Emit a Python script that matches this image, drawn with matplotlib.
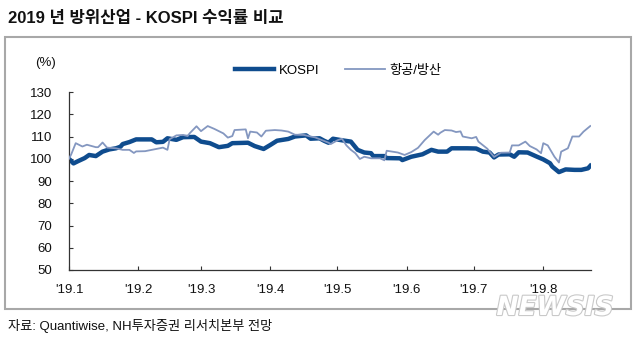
import numpy as np
import matplotlib
matplotlib.use("Agg")
import matplotlib.pyplot as plt
import matplotlib.patheffects as pe
from matplotlib.patches import Rectangle
from matplotlib.lines import Line2D

plt.rcParams['font.family'] = ['Liberation Sans', 'Noto Sans CJK KR', 'DejaVu Sans']

title = "2019 년 방위산업 - KOSPI 수익률 비교"
source = "자료: Quantiwise, NH투자증권 리서치본부 전망"
y_unit = "(%)"
series_names = ["KOSPI", "항공/방산"]
tick_labels = ["'19.1", "'19.2", "'19.3", "'19.4", "'19.5", "'19.6", "'19.7", "'19.8"]
y_ticks = [50, 60, 70, 80, 90, 100, 110, 120, 130]

# day offsets from 2019-01-01
kospi_days = [0, 2, 4, 7, 9, 12, 15, 18, 21, 23, 24, 27, 30, 37, 39, 42, 44, 48, 51, 56,
              59, 63, 67, 71, 73, 80, 83, 87, 90, 93, 98, 101, 106, 108, 112, 114, 116, 118,
              122, 126, 129, 132, 135, 136, 141, 142, 148, 149, 153, 158, 162, 165, 169, 171,
              178, 182, 185, 188, 190, 192, 197, 199, 201, 205, 209, 212, 215, 216, 219, 222,
              226, 229, 232, 233]
kospi_vals = [100, 97.9, 98.9, 100.3, 101.7, 101.2, 103.2, 104.2, 104.7, 105.4, 106.6, 107.5,
              108.7, 108.7, 107.4, 107.6, 109.2, 108.5, 109.7, 109.8,
              107.7, 107.0, 105.2, 105.8, 107.0, 107.2, 105.7, 104.4, 106.2, 108.1, 108.9, 110.0,
              110.5, 109.0, 109.2, 108.1, 107.2, 109.0,
              108.3, 107.7, 104.0, 102.8, 102.5, 101.2, 101.2, 100.3, 100.2, 99.4, 100.9, 102.0,
              104.0, 103.2, 103.2, 104.7,
              104.7, 104.6, 103.2, 102.8, 100.6, 101.9, 102.0, 100.9, 102.9, 102.8, 101.0, 99.7,
              98.0, 96.5, 94.0, 95.2,
              95.0, 95.0, 95.7, 96.8]

defense_days = [0, 1, 3, 6, 8, 12, 13, 15, 17, 21, 24, 27, 29, 30, 34, 38, 42, 44, 45, 48,
                51, 53, 54, 57, 59, 62, 65, 67, 69, 71, 73, 74, 79, 80, 81, 84, 86, 88, 92,
                95, 98, 101, 105, 108, 110, 113, 116, 117, 120, 122, 124, 126, 128, 130, 132,
                135, 139, 141, 142, 147, 150, 153, 156, 159, 163, 165, 166, 168, 171, 173, 175,
                176, 180, 182, 183, 187, 190, 193, 197, 198, 201, 204, 206, 209, 211, 212, 214,
                217, 219, 220, 223, 225, 228, 230, 233]
defense_vals = [100, 102.0, 107.0, 105.5, 106.3, 105.2, 105.2, 107.3, 105.0, 104.7, 104.0, 104.0,
                102.6, 103.3, 103.4, 104.2, 105.0, 104.0, 108.8, 110.5,
                110.7, 110.2, 111.5, 114.6, 112.4, 114.7, 113.4, 112.4, 111.4, 109.5, 110.2, 112.9,
                113.2, 109.2, 112.2, 111.8, 110.0, 112.6, 112.9,
                112.7, 112.2, 110.8, 110.7, 110.0, 109.6, 108.4, 107.2, 106.6, 108.3, 109.0, 106.0,
                104.0, 102.5, 99.9, 100.9,
                100.2, 100.2, 99.3, 103.6, 102.8, 101.7, 103.0, 104.9, 108.4, 112.2, 110.8, 111.7,
                112.9, 112.7, 112.0, 112.3,
                110.0, 109.2, 109.8, 107.7, 104.5, 100.8, 102.7, 102.8, 106.0, 106.0, 107.7, 105.7,
                104.2, 102.5, 107.0, 106.0,
                100.9, 98.3, 103.2, 104.7, 110.0, 110.0, 112.2, 114.7]

base = np.datetime64('2019-01-01')
kx = base + np.array(kospi_days, dtype='timedelta64[D]')
dx = base + np.array(defense_days, dtype='timedelta64[D]')
month_ticks = np.arange('2019-01', '2019-09', dtype='datetime64[M]').astype('datetime64[D]')

kospi_color = '#0f4c8e'
defense_color = '#8497c0'

fig = plt.figure(figsize=(6.4, 3.39), dpi=100)
ax = fig.add_axes([69/640, 1-270/339, (591-69)/640, (270-92)/339])

ax.plot(kx, kospi_vals, color=kospi_color, lw=3.2, solid_joinstyle='round', zorder=2)
ax.plot(dx, defense_vals, color=defense_color, lw=1.3, zorder=3)

ax.set_ylim(50, 130)
ax.set_yticks(y_ticks)
ax.set_xlim(base, np.datetime64('2019-08-22T08:00'))
ax.set_xticks(month_ticks)
ax.set_xticklabels(tick_labels)
for s in ['top', 'right']:
    ax.spines[s].set_visible(False)
for s in ['left', 'bottom']:
    ax.spines[s].set_color('#333333')
    ax.spines[s].set_linewidth(0.9)
ax.tick_params(axis='y', direction='in', length=3, width=0.8, pad=12, labelsize=9.5, colors='#333333', labelcolor='#111111')
ax.tick_params(axis='x', direction='in', length=3, width=0.8, pad=10, labelsize=9.5, colors='#333333', labelcolor='#111111')

handles = [Line2D([], [], color=kospi_color, lw=3.2), Line2D([], [], color=defense_color, lw=1.3)]
fig.legend(handles, series_names, loc='center', bbox_to_anchor=(338/640, 1-71/339), ncol=2,
           frameon=False, fontsize=9.5, handlelength=3.0, handletextpad=0.3, columnspacing=2.0)

fig.text(46/640, 1-63/339, y_unit, ha='center', va='center', fontsize=9.5, color='#111111')
fig.text(8/640, 1-19/339, title, ha='left', va='center', fontsize=12, fontweight='bold',
         color='#111111')
fig.text(8/640, 1-326/339, source, ha='left', va='center', fontsize=9.5, color='#111111')

fig.patches.append(Rectangle((5/640, 1-309/339), (631-5)/640, (309-37)/339, transform=fig.transFigure,
                             fill=False, edgecolor='#a8a8a8', lw=1.5, zorder=0))

fig.text(555/640, 1-308/339, "NEWSIS", ha='center', va='center', fontsize=19, fontweight='bold',
         fontstyle='italic', family='DejaVu Sans', color='white',
         path_effects=[pe.withStroke(linewidth=1.6, foreground='#c9c9c9')])

fig.savefig('out.png', dpi=100)
